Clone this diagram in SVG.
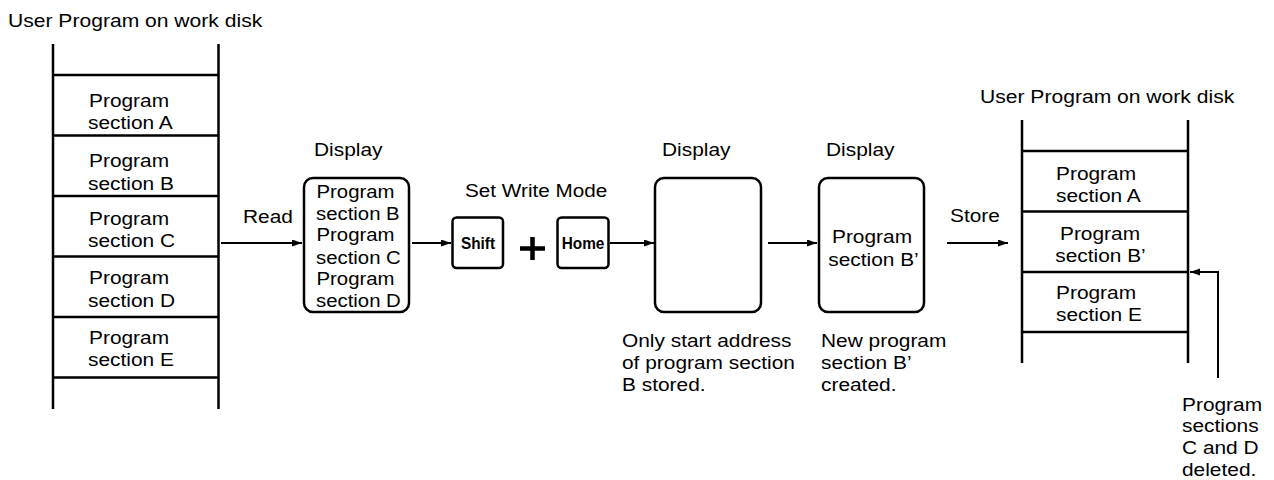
<svg xmlns="http://www.w3.org/2000/svg" width="1274" height="480" viewBox="0 0 1274 480">
<style>
.t{font-family:"Liberation Sans",Arial,Helvetica,sans-serif;font-size:18.5px;fill:#000}
.b{font-family:"Liberation Sans",Arial,Helvetica,sans-serif;font-size:16px;font-weight:bold;fill:#000}
.ln{stroke:#000;stroke-width:2.5;fill:none}
.box{stroke:#000;stroke-width:2.5;fill:#fff}
.con{stroke:#000;stroke-width:2;fill:none}
</style>
<defs>
<marker id="ah" markerUnits="userSpaceOnUse" markerWidth="11" markerHeight="8" refX="10" refY="3.5" orient="auto">
<path d="M0,0 L10,3.5 L0,7 z" fill="#000"/>
</marker>
</defs>
<rect width="1274" height="480" fill="#fff"/>

<g id="left-stack">
<text class="t" transform="translate(8 27) scale(1.14 1)">User Program on work disk</text>
<path class="ln" d="M53,44 V409 M218.5,44 V409 M53,75 H218.5 M53,135.5 H218.5 M53,196 H218.5 M53,256.5 H218.5 M53,317 H218.5 M53,377.5 H218.5"/>
<text class="t" transform="translate(89 107) scale(1.13 1)">Program</text>
<text class="t" transform="translate(88 129) scale(1.13 1)">section A</text>
<text class="t" transform="translate(89 167) scale(1.13 1)">Program</text>
<text class="t" transform="translate(88 190) scale(1.13 1)">section B</text>
<text class="t" transform="translate(89 225) scale(1.13 1)">Program</text>
<text class="t" transform="translate(88 247) scale(1.13 1)">section C</text>
<text class="t" transform="translate(89 284) scale(1.13 1)">Program</text>
<text class="t" transform="translate(88 306.5) scale(1.13 1)">section D</text>
<text class="t" transform="translate(89 343.5) scale(1.13 1)">Program</text>
<text class="t" transform="translate(88 366) scale(1.13 1)">section E</text>
</g>

<g id="display1">
<text class="t" transform="translate(314 156) scale(1.13 1)">Display</text>
<rect class="box" x="304" y="178" width="105" height="134" rx="9"/>
<text class="t" transform="translate(316.5 197.5) scale(1.1 1)">Program</text>
<text class="t" transform="translate(316 220) scale(1.1 1)">section B</text>
<text class="t" transform="translate(316.5 241) scale(1.1 1)">Program</text>
<text class="t" transform="translate(316 263.5) scale(1.1 1)">section C</text>
<text class="t" transform="translate(316.5 284.5) scale(1.1 1)">Program</text>
<text class="t" transform="translate(316 307) scale(1.1 1)">section D</text>
</g>

<g id="set-write-mode">
<text class="t" transform="translate(465 197) scale(1.12 1)">Set Write Mode</text>
</g>

<g id="shift-key">
<rect class="box" x="452.5" y="217.5" width="50.5" height="50.5" rx="4"/>
<text class="b" text-anchor="middle" transform="translate(478 248.5) scale(0.96 1)">Shift</text>
</g>

<g id="plus">
<path d="M520,248.5 H545 M532.5,237 V260" stroke="#000" stroke-width="4.5" fill="none"/>
</g>

<g id="home-key">
<rect class="box" x="557.5" y="217.5" width="51" height="50.5" rx="4"/>
<text class="b" text-anchor="middle" transform="translate(583 248.5) scale(0.96 1)">Home</text>
</g>

<g id="display2">
<text class="t" transform="translate(662 156) scale(1.13 1)">Display</text>
<rect class="box" x="655" y="178" width="106" height="134" rx="9"/>
<text class="t" transform="translate(622 347) scale(1.13 1)">Only start address</text>
<text class="t" transform="translate(622 369) scale(1.13 1)">of program section</text>
<text class="t" transform="translate(622 391) scale(1.13 1)">B stored.</text>
</g>

<g id="display3">
<text class="t" transform="translate(826 156) scale(1.13 1)">Display</text>
<rect class="box" x="819" y="178" width="105" height="134" rx="9"/>
<text class="t" text-anchor="middle" transform="translate(872 243) scale(1.13 1)">Program</text>
<text class="t" text-anchor="middle" transform="translate(873.5 265.5) scale(1.13 1)">section B’</text>
<text class="t" transform="translate(821 347) scale(1.13 1)">New program</text>
<text class="t" transform="translate(821 369) scale(1.13 1)">section B’</text>
<text class="t" transform="translate(821 391) scale(1.13 1)">created.</text>
</g>

<g id="right-stack">
<text class="t" transform="translate(980 103) scale(1.14 1)">User Program on work disk</text>
<path class="ln" d="M1022,120 V363 M1188,120 V363 M1022,151 H1188 M1022,211.5 H1188 M1022,272 H1188 M1022,332 H1188"/>
<text class="t" transform="translate(1056 179.5) scale(1.13 1)">Program</text>
<text class="t" transform="translate(1056 201.5) scale(1.13 1)">section A</text>
<text class="t" text-anchor="middle" transform="translate(1100 240) scale(1.13 1)">Program</text>
<text class="t" text-anchor="middle" transform="translate(1100.5 262) scale(1.13 1)">section B’</text>
<text class="t" transform="translate(1056 299) scale(1.13 1)">Program</text>
<text class="t" transform="translate(1056 321) scale(1.13 1)">section E</text>
</g>

<g id="deleted-note">
<text class="t" transform="translate(1182 410.5) scale(1.13 1)">Program</text>
<text class="t" transform="translate(1182 432) scale(1.13 1)">sections</text>
<text class="t" transform="translate(1182 454) scale(1.13 1)">C and D</text>
<text class="t" transform="translate(1182 476) scale(1.13 1)">deleted.</text>
</g>

<g id="connectors">
<text class="t" transform="translate(243 223) scale(1.13 1)">Read</text>
<path class="con" d="M221,243 H302" marker-end="url(#ah)"/>
<path class="con" d="M412,243 H451" marker-end="url(#ah)"/>
<path class="con" d="M610,243 H654" marker-end="url(#ah)"/>
<path class="con" d="M768,243 H817" marker-end="url(#ah)"/>
<text class="t" transform="translate(950 222) scale(1.13 1)">Store</text>
<path class="con" d="M947,243 H1008" marker-end="url(#ah)"/>
<path class="con" d="M1218,378 V272 H1190" marker-end="url(#ah)"/>
</g>
</svg>
